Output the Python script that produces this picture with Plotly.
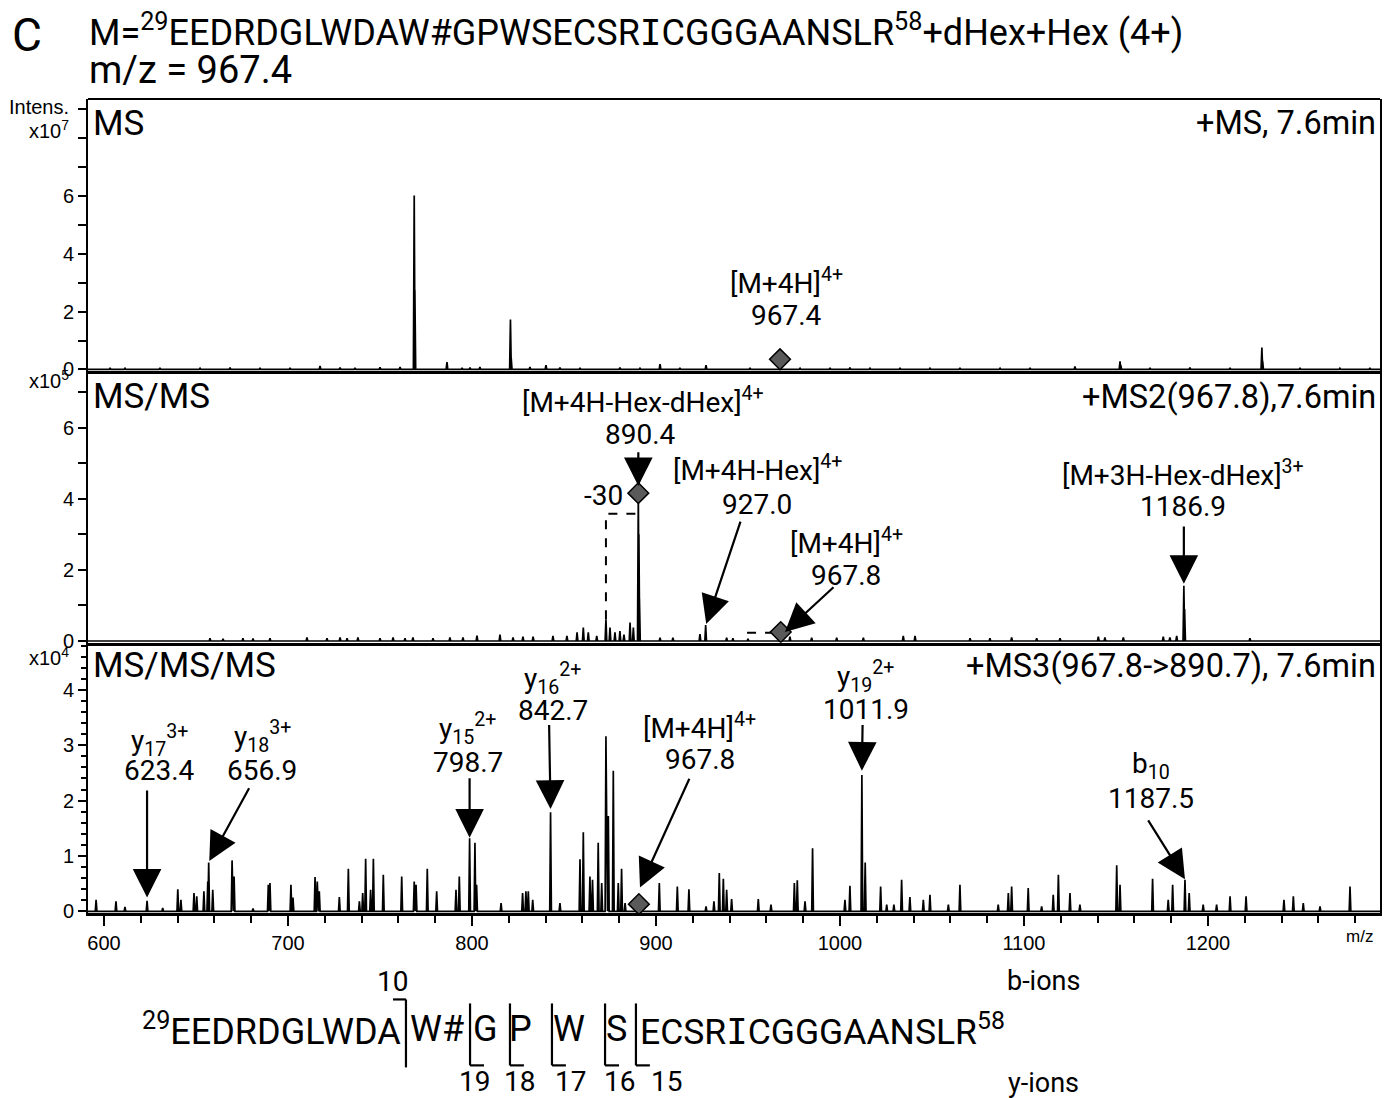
import plotly.graph_objects as go

# ------------------------------------------------------------------ data
# MS (intensity x1e7)
ms1_mz = [603.3, 611.4, 630.4, 652.2, 668.5, 684.8, 701.1, 717.4, 728.3, 736.4,
          750.0, 760.9, 768.6, 768.95, 786.4, 794.6, 798.9, 804.3, 820.9, 821.3,
          831.5, 840.2, 847.8, 858.7, 880.4, 891.3, 902.2, 913.0, 927.2, 951.1,
          978.3, 994.6, 1005.4, 1016.3, 1032.6, 1048.9, 1065.2, 1087.0, 1103.3, 1127.7,
          1152.2, 1152.6, 1168.5, 1190.2, 1212.0, 1229.3, 1229.7, 1250.0, 1271.7, 1288.0]
ms1_int = [0.05, 0.04, 0.05, 0.04, 0.06, 0.05, 0.05, 0.12, 0.06, 0.05,
           0.07, 0.08, 6.02, 2.75, 0.25, 0.05, 0.06, 0.08, 1.73, 0.40,
           0.08, 0.15, 0.06, 0.05, 0.06, 0.04, 0.18, 0.05, 0.15, 0.05,
           0.04, 0.05, 0.06, 0.04, 0.05, 0.04, 0.05, 0.04, 0.05, 0.10,
           0.28, 0.15, 0.05, 0.06, 0.05, 0.76, 0.30, 0.05, 0.04, 0.05]

# MS/MS (intensity x1e5)
ms2_mz = [657.6, 664.7, 675.5, 681.0, 690.2, 710.3, 721.2, 728.3, 732.1, 738.0,
          750.0, 757.1, 763.6, 767.9, 778.8, 788.0, 795.1, 802.7, 815.2, 822.3,
          827.7, 833.2, 844.0, 851.6, 857.1, 860.5, 863.2, 867.8, 872.8, 875.0,
          877.7, 880.4, 882.6, 885.9, 887.7, 890.4, 890.7, 891.0, 902.2, 909.2,
          923.9, 927.0, 938.4, 941.8, 950.0, 967.8, 972.8, 984.6, 998.2, 1012.7,
          1034.4, 1040.8, 1070.7, 1081.5, 1093.3, 1106.9, 1119.6, 1140.4, 1144.0, 1154.0,
          1175.7, 1179.3, 1183.0, 1186.9, 1187.3, 1222.8]
ms2_int = [0.08, 0.06, 0.08, 0.07, 0.08, 0.10, 0.08, 0.10, 0.08, 0.10,
           0.08, 0.10, 0.08, 0.10, 0.08, 0.10, 0.10, 0.15, 0.18, 0.10,
           0.12, 0.12, 0.14, 0.14, 0.24, 0.38, 0.24, 0.14, 0.61, 0.38,
           0.24, 0.28, 0.18, 0.52, 0.38, 4.16, 3.00, 1.20, 0.09, 0.09,
           0.19, 0.45, 0.09, 0.08, 0.06, 0.12, 0.12, 0.09, 0.09, 0.09,
           0.14, 0.14, 0.08, 0.08, 0.10, 0.08, 0.08, 0.12, 0.10, 0.10,
           0.12, 0.10, 0.14, 1.55, 0.90, 0.08]

# MS/MS/MS (intensity x1e4)
ms3_mz = [595.7, 606.5, 611.4, 623.4, 631.9, 640.1, 641.8, 648.9, 650.4, 654.3,
          656.4, 656.9, 659.1, 669.6, 670.7, 681.0, 689.3, 690.2, 701.6, 702.7,
          714.7, 715.9, 717.0, 727.9, 732.8, 738.8, 740.6, 742.2, 744.9, 746.4,
          751.8, 761.8, 768.6, 769.6, 775.7, 780.8, 791.3, 793.1, 798.7, 801.6,
          802.5, 815.8, 827.5, 829.3, 830.6, 833.0, 842.7, 847.8, 858.7, 860.5,
          864.1, 865.5, 868.6, 870.5, 872.8, 874.1, 876.8, 879.5, 881.3, 883.2,
          901.8, 911.6, 917.9, 927.2, 931.5, 934.4, 936.6, 938.4, 941.1, 955.6,
          962.5, 975.2, 976.8, 981.0, 985.1, 1002.7, 1005.4, 1011.9, 1013.7, 1022.1,
          1025.4, 1029.3, 1033.5, 1038.0, 1045.3, 1048.9, 1058.9, 1065.2, 1086.0, 1091.5,
          1093.3, 1102.3, 1109.6, 1115.9, 1118.7, 1125.0, 1130.4, 1150.4, 1152.2, 1169.9,
          1178.4, 1180.8, 1187.5, 1189.8, 1197.4, 1204.7, 1212.0, 1220.7, 1241.3, 1246.4,
          1251.8, 1260.9, 1277.2]
ms3_int = [0.21, 0.18, 0.08, 0.19, 0.06, 0.40, 0.21, 0.33, 0.27, 0.36,
           0.54, 0.88, 0.39, 0.92, 0.63, 0.05, 0.48, 0.51, 0.48, 0.25,
           0.62, 0.54, 0.36, 0.26, 0.77, 0.18, 0.33, 0.95, 0.39, 0.95,
           0.66, 0.63, 0.54, 0.48, 0.77, 0.36, 0.39, 0.63, 1.32, 1.24,
           0.48, 0.15, 0.33, 0.36, 0.36, 0.21, 1.79, 0.15, 0.94, 1.43,
           0.63, 0.57, 1.24, 0.51, 3.16, 1.72, 2.54, 0.51, 0.77, 0.15,
           0.51, 0.45, 0.40, 0.09, 0.18, 0.69, 0.59, 0.39, 0.22, 0.22,
           0.12, 0.51, 0.56, 0.18, 1.14, 0.21, 0.46, 2.46, 0.88, 0.45,
           0.12, 0.12, 0.57, 0.26, 0.21, 0.30, 0.12, 0.48, 0.12, 0.33,
           0.45, 0.42, 0.09, 0.30, 0.66, 0.33, 0.12, 0.83, 0.48, 0.59,
           0.21, 0.48, 0.57, 0.33, 0.12, 0.12, 0.27, 0.27, 0.21, 0.27,
           0.15, 0.09, 0.45]

# precursor markers (diamonds)
ms1_prec = ([967.4], [0.35])
ms2_prec = ([890.4, 967.8], [4.16, 0.25])
ms3_prec = ([890.7], [0.13])

# dashed neutral-loss bracket (-30) and isolation mark in MS/MS
loss_mz = [872.8, 872.8, 889.6]
loss_int = [0.61, 3.58, 3.58]
iso_mz = [949.5, 964.0]
iso_int = [0.23, 0.23]

assert len(ms1_mz) == len(ms1_int)
assert len(ms2_mz) == len(ms2_int)
assert len(ms3_mz) == len(ms3_int)

XR = [591.3, 1293.5]
FONT = "Roboto"
TICKFONT = dict(family="Liberation Sans, Arial", size=20, color="black")


def profile(mz, inten, hw=0.45):
    xs, ys = [XR[0]], [0]
    for m, h in sorted(zip(mz, inten)):
        xs += [m - hw, m, m + hw]
        ys += [0, h, 0]
    xs.append(XR[1])
    ys.append(0)
    return xs, ys


fig = go.Figure()

panels = [(ms3_mz, ms3_int, "x", "y", ms3_prec),
          (ms2_mz, ms2_int, "x2", "y2", ms2_prec),
          (ms1_mz, ms1_int, "x3", "y3", ms1_prec)]
for mz, it, xa, ya, prec in panels:
    xs, ys = profile(mz, it)
    fig.add_trace(go.Scatter(x=xs, y=ys, mode="lines", xaxis=xa, yaxis=ya,
                             line=dict(color="black", width=1.7),
                             hoverinfo="skip", showlegend=False))

for x, y, xa, ya in [(loss_mz, loss_int, "x2", "y2"), (iso_mz, iso_int, "x2", "y2")]:
    fig.add_trace(go.Scatter(x=x, y=y, mode="lines", xaxis=xa, yaxis=ya,
                             line=dict(color="black", width=2, dash="dash"),
                             hoverinfo="skip", showlegend=False))

for mz, it, xa, ya, prec in panels:
    fig.add_trace(go.Scatter(x=prec[0], y=prec[1], mode="markers", xaxis=xa, yaxis=ya,
                             marker=dict(symbol="diamond", size=16, color="#5a5a5a",
                                         line=dict(color="black", width=1.5)),
                             hoverinfo="skip", showlegend=False))

ann = []


def txt(x, y, s, xref, yref, size=28, xanchor="center", yanchor="middle", family=FONT):
    ann.append(dict(x=x, y=y, xref=xref, yref=yref, text=s, showarrow=False,
                    xanchor=xanchor, yanchor=yanchor,
                    font=dict(family=family, size=size, color="black")))


def arrow(x, y, ax, ay, xa, ya):
    ann.append(dict(x=x, y=y, ax=ax, ay=ay, xref=xa, yref=ya, axref=xa, ayref=ya,
                    text="", showarrow=True, arrowhead=2, arrowsize=2.6,
                    arrowwidth=2.2, arrowcolor="black"))


# MS panel labels
txt(970.7, 3.05, "[M+4H]<sup>4+</sup>", "x3", "y3")
txt(970.7, 1.87, "967.4", "x3", "y3")

# MS/MS labels
txt(892.9, 6.77, "[M+4H-Hex-dHex]<sup>4+</sup>", "x2", "y2")
txt(891.8, 5.81, "890.4", "x2", "y2")
arrow(890.4, 4.36, 890.4, 5.35, "x2", "y2")
txt(954.9, 4.84, "[M+4H-Hex]<sup>4+</sup>", "x2", "y2")
txt(954.9, 3.85, "927.0", "x2", "y2")
arrow(927.3, 0.48, 946.2, 3.40, "x2", "y2")
txt(1003.3, 2.80, "[M+4H]<sup>4+</sup>", "x2", "y2")
txt(1003.3, 1.84, "967.8", "x2", "y2")
arrow(970.1, 0.25, 997.3, 1.55, "x2", "y2")
txt(1186.4, 4.70, "[M+3H-Hex-dHex]<sup>3+</sup>", "x2", "y2")
txt(1186.4, 3.77, "1186.9", "x2", "y2")
arrow(1186.9, 1.61, 1186.9, 3.26, "x2", "y2")
txt(871.7, 4.08, "-30", "x2", "y2")

# MS/MS/MS labels
ms3_labels = [
    (630.4, 3.08, "y<sub>17</sub><sup>3+</sup>", 2.54, "623.4", (623.4, 0.25, 623.4, 2.21)),
    (685.9, 3.15, "y<sub>18</sub><sup>3+</sup>", 2.54, "656.9", (657.2, 0.91, 679.3, 2.25)),
    (797.8, 3.30, "y<sub>15</sub><sup>2+</sup>", 2.68, "798.7", (798.7, 1.33, 798.7, 2.43)),
    (844.0, 4.20, "y<sub>16</sub><sup>2+</sup>", 3.62, "842.7", (842.7, 1.85, 841.9, 3.39)),
    (923.9, 3.33, "[M+4H]<sup>4+</sup>", 2.74, "967.8", (891.3, 0.43, 918.5, 2.42)),
    (1014.1, 4.24, "y<sub>19</sub><sup>2+</sup>", 3.64, "1011.9", (1011.9, 2.54, 1012.3, 3.39)),
    (1169.0, 2.63, "b<sub>10</sub>", 2.03, "1187.5", (1187.5, 0.58, 1167.0, 1.67)),
]
for lx, ly, lab, ny, num, ar in ms3_labels:
    txt(lx, ly, lab, "x", "y")
    txt(lx, ny, num, "x", "y")
    arrow(ar[0], ar[1], ar[2], ar[3], "x", "y")

# panel names and scan info (paper coords)
for yv, left, right in [(0.9705, "MS", "+MS, 7.6min"),
                        (0.634, "MS/MS", "+MS2(967.8),7.6min"),
                        (0.304, "MS/MS/MS", "+MS3(967.8->890.7), 7.6min")]:
    txt(0.0025, yv, left, "paper", "paper", size=35, xanchor="left")
    txt(0.9985, yv, right, "paper", "paper", size=32.5, xanchor="right")

# intensity labels
AXF = "Liberation Sans, Arial"
txt(-0.0135, 0.990, "Intens.", "paper", "paper", size=20, xanchor="right", family=AXF)
txt(-0.0135, 0.962, "x10<sup>7</sup>", "paper", "paper", size=20, xanchor="right", family=AXF)
txt(-0.0135, 0.655, "x10<sup>5</sup>", "paper", "paper", size=20, xanchor="right", family=AXF)
txt(-0.0135, 0.315, "x10<sup>4</sup>", "paper", "paper", size=20, xanchor="right", family=AXF)
txt(0.9845, -0.029, "m/z", "paper", "paper", size=17, family=AXF)

# title
MONO_I = '<span style="font-family:DejaVu Sans Mono">I</span>'
txt(-0.0604, 1.0786, "C", "paper", "paper", size=46, xanchor="left")
txt(-0.001, 1.0847, "M=<sup>29</sup>EEDRDGLWDAW#GPWSECSR" + MONO_I +
    "CGGGAANSLR<sup>58</sup>+dHex+Hex (4+)", "paper", "paper", size=36, xanchor="left")
txt(-0.001, 1.0356, "m/z = 967.4", "paper", "paper", size=38, xanchor="left")

# fragment map
txt(0.2438, -0.143, "<sup>29</sup>EEDRDGLWDA", "paper", "paper", size=36, xanchor="right")
txt(0.2477, -0.143, "W#", "paper", "paper", size=36, xanchor="left")
for xc, ch in [(0.3080, "G"), (0.3351, "P"), (0.3723, "W"), (0.4094, "S")]:
    txt(xc, -0.143, ch, "paper", "paper", size=36)
txt(0.4257, -0.143, "ECSR" + MONO_I + "CGGGAANSLR<sup>58</sup>", "paper", "paper",
    size=35.5, xanchor="left")
txt(0.2353, -0.0841, "10", "paper", "paper", size=28)
txt(0.7392, -0.0841, "b-ions", "paper", "paper", size=27)
txt(0.7392, -0.2093, "y-ions", "paper", "paper", size=27)
for xc, n in [(0.2995, "19"), (0.3336, "18"), (0.3731, "17"), (0.4110, "16"), (0.4474, "15")]:
    txt(xc, -0.2069, n, "paper", "paper", size=28)

shapes = []
LS = dict(color="black", width=2.2)


def seg(x0, y0, x1, y1):
    shapes.append(dict(type="line", xref="paper", yref="paper", x0=x0, y0=y0,
                       x1=x1, y1=y1, line=LS))


# b-ion bracket
seg(0.2461, -0.1062, 0.2461, -0.1897)
seg(0.2361, -0.1062, 0.2461, -0.1062)
# y-ion brackets
for xb in [0.2957, 0.3266, 0.3591, 0.4002, 0.4241]:
    seg(xb, -0.1111, xb, -0.1872)
    seg(xb, -0.1872, xb + 0.0108, -0.1872)
# top frame line
shapes.append(dict(type="line", xref="paper", yref="paper", x0=0, y0=1, x1=1, y1=1,
                   line=dict(color="black", width=2)))

xcommon = dict(range=XR, showgrid=False, zeroline=False, showline=True,
               linecolor="black", linewidth=3, mirror=False)
ycommon = dict(showgrid=False, zeroline=False, showline=True, linecolor="black",
               linewidth=2, mirror=True, ticks="outside", ticklen=8, tickwidth=2,
               tickcolor="black", tickfont=TICKFONT, tickmode="array")

# page body has an 8px margin: figure is 8px smaller and margins shifted accordingly
fig.update_layout(
    width=1385, height=1090,
    margin=dict(l=80, r=13, t=91, b=185),
    paper_bgcolor="white", plot_bgcolor="white",
    showlegend=False,
    xaxis=dict(**xcommon, anchor="y", domain=[0, 1], ticks="outside", tick0=0, dtick=100,
               ticklen=10, tickwidth=2, tickcolor="black", tickfont=TICKFONT,
               minor=dict(dtick=20, ticks="outside", ticklen=7, tickwidth=1.5,
                          tickcolor="black")),
    xaxis2=dict(**xcommon, anchor="y2", matches="x", showticklabels=False, ticks=""),
    xaxis3=dict(**xcommon, anchor="y3", matches="x", showticklabels=False, ticks=""),
    yaxis=dict(**ycommon, anchor="x", domain=[0, 0.332], range=[-0.03, 4.85],
               tickvals=[0, 1, 2, 3, 4],
               minor=dict(dtick=0.2, tick0=0, ticks="outside", ticklen=5, tickwidth=1.5,
                          tickcolor="black")),
    yaxis2=dict(**ycommon, anchor="x2", domain=[0.332, 0.666], range=[-0.05, 7.6],
                tickvals=[0, 2, 4, 6],
                minor=dict(dtick=1, tick0=0, ticks="outside", ticklen=8, tickwidth=2,
                           tickcolor="black")),
    yaxis3=dict(**ycommon, anchor="x3", domain=[0.666, 1], range=[-0.05, 9.36],
                tickvals=[0, 2, 4, 6],
                minor=dict(dtick=1, tick0=0, ticks="outside", ticklen=8, tickwidth=2,
                           tickcolor="black")),
    annotations=ann,
    shapes=shapes,
)

fig.write_html("out.html")
